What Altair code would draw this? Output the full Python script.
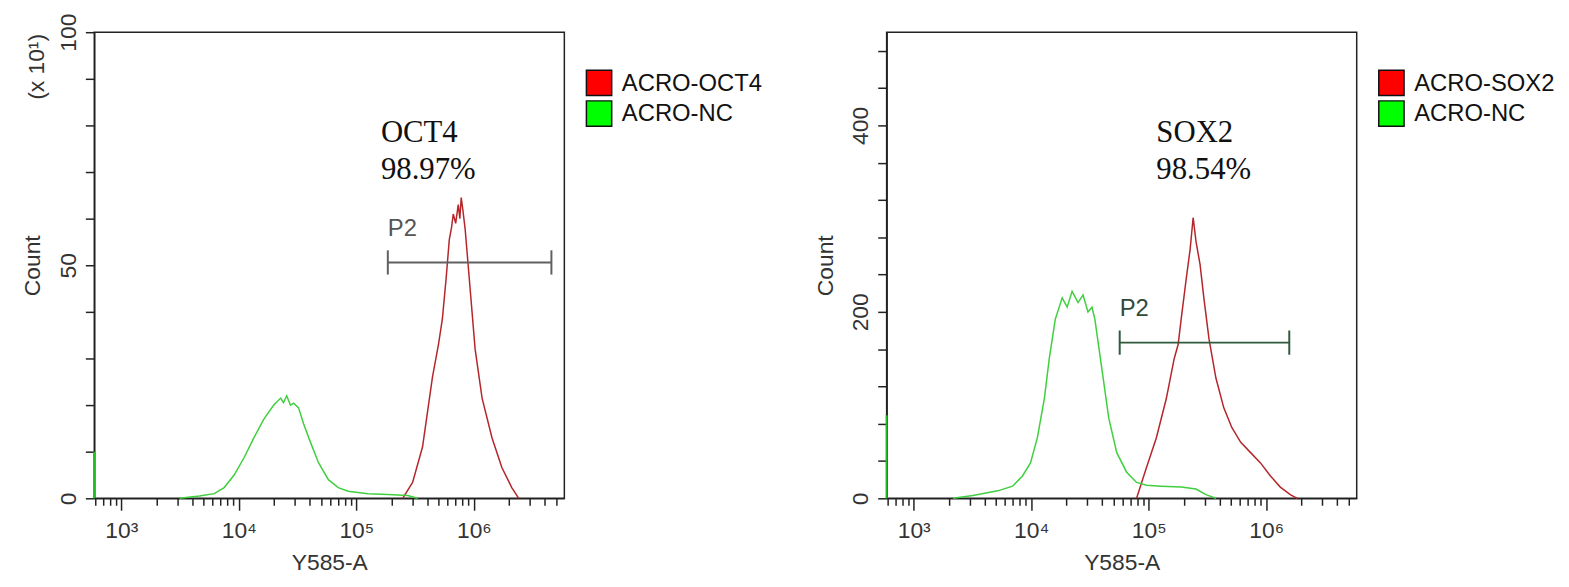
import altair as alt
import pandas as pd

# ---------------- data ----------------
# Left panel: OCT4 (counts shown in units of x10)
oct4_x = [247900, 301000, 365600, 444400, 500000, 539500, 580000, 618000, 645000, 668000, 700000,
          736600, 760000, 780400, 805000, 843500, 929000, 1025000, 1175000, 1426000, 1731000, 2102000, 2409000]
oct4_y = [0, 3.4, 11, 26, 33, 38.5, 47, 55.5, 58, 61, 59, 63, 60, 64.5, 62, 57.7, 45, 32, 21.5, 13, 6.6, 2.3, 0]
nc1_x = [3130, 4620, 6180, 7500, 9120, 11070, 13450, 16330, 19830, 22710, 24000, 25540, 27500, 29250,
         32240, 35550, 40740, 47530, 57800, 70150, 85150, 125600, 185300, 273400, 332000]
nc1_y = [0, 0.5, 1, 2.3, 5, 8.7, 13, 17, 20, 21.5, 20.5, 22, 20, 20.4, 19.4, 16, 12, 7.7, 4, 2.3, 1.5, 1,
         0.8, 0.6, 0]

# Right panel: SOX2
sox2_x = [78850, 95730, 116200, 141200, 164900, 178000, 188800, 208300, 225100, 238800, 252900, 273400,
          295300, 325800, 373100, 435500, 509300, 606700, 736600, 893500, 1086000, 1318000, 1602000, 1836000]
sox2_y = [0, 33, 65, 107, 150, 165, 192, 235, 267, 301, 275, 251, 214, 171, 129, 97, 76, 60, 49, 38, 24, 12, 4, 0]
nc2_x = [2163, 3192, 5190, 6950, 8435, 9860, 11290, 12940, 14260, 16020, 18350, 20230, 22290, 25040,
         27600, 30420, 32890, 34840, 39910, 45720, 53450, 64890, 78850, 95730, 128200, 188800, 252900,
         307000, 373100]
nc2_y = [0, 3, 8, 13, 24, 38, 65, 107, 150, 192, 215, 205, 222, 210, 218, 200, 205, 192, 139, 86, 49, 28,
         17, 14, 13, 12, 10, 4, 0]

# pile-up at the lowest channel (green edge line)
edge_counts = [10, 89]

# gates (P2)
gate_lo = [185300, 56640]
gate_hi = [4570000, 1571000]
gate_y = [50.6, 167]
gate_cap = [2.6, 13]
p2_label_y = [56.2, 196]

# annotations
marker_names = ["OCT4", "SOX2"]
marker_pcts = ["98.97%", "98.54%"]
ann_x = [161800, 116200]
ann_y1 = [76.4, 382]
ann_y2 = [68.5, 342]

legend_labels = [["ACRO-OCT4", "ACRO-NC"], ["ACRO-SOX2", "ACRO-NC"]]

# axes
X_DOMAIN = [588.8, 5888000]
major_ticks = [1000, 10000, 100000, 1000000]
minor_ticks = [600, 700, 800, 900, 2000, 3000, 4000, 5000, 6000, 7000, 8000, 9000,
               20000, 30000, 40000, 50000, 60000, 70000, 80000, 90000,
               200000, 300000, 400000, 500000, 600000, 700000, 800000, 900000,
               2000000, 3000000, 4000000, 5000000]
y_max = [100, 500]
y_ticks = [list(range(0, 101, 10)), list(range(0, 481, 40))]
y_label_step = [50, 200]

RED_LINE = "#b5262a"
GREEN_LINE = "#3fcf3f"
LEG_RED = "#ff0000"
LEG_GREEN = "#00ff00"
SANS = "Liberation Sans"
SERIF = "Liberation Serif"
W, H = 474, 470

gate_colors = ["#606060", "#2f5a3c"]
p2_colors = ["#555555", "#2f4a3a"]

xscale = alt.Scale(type="log", domain=X_DOMAIN, nice=False)

label_expr = ("datum.value == 1000 ? '10³' : datum.value == 10000 ? '10⁴' : "
              "datum.value == 100000 ? '10⁵' : datum.value == 1000000 ? '10⁶' : ''")
major_test = "datum.value == 1000 || datum.value == 10000 || datum.value == 100000 || datum.value == 1000000"


def panel(i, hx, hy, nx, ny):
    names = legend_labels[i]
    df = pd.DataFrame({
        "x": list(hx) + list(nx),
        "count": list(hy) + list(ny),
        "series": [names[0]] * len(hx) + ["NC"] * len(nx),
    })
    yscale = alt.Scale(domain=[0, y_max[i]], nice=False)

    y_axis = alt.Axis(values=y_ticks[i], tickCount=100,
                      labelExpr=f"datum.value % {y_label_step[i]} === 0 ? datum.label : ''",
                      labelAngle=270, labelAlign="center", labelBaseline="bottom", labelPadding=5,
                      labelFont=SANS, labelFontSize=23, labelColor="#333", labelOverlap=False,
                      labelFlush=False, labelBound=False, tickSize=9, tickColor="#222", tickWidth=1.5,
                      domainColor="#222", domainWidth=1.5, grid=False,
                      titleFont=SANS, titleFontSize=23, titleFontWeight="normal", titleColor="#333",
                      titleAngle=270, titleAlign="center", titleBaseline="middle", titleX=-62, titleY=H / 2)
    x_axis = alt.Axis(values=major_ticks + minor_ticks, tickCount=100, labelExpr=label_expr, labelFont=SANS,
                      labelFontSize=23, labelColor="#333", labelPadding=10, labelFlush=False,
                      labelOverlap=False, labelBound=False,
                      tickSize={"condition": {"test": major_test, "value": 12}, "value": 7},
                      tickColor="#222", tickWidth=1.5, domainColor="#222", domainWidth=1.5,
                      grid=False, titleFont=SANS, titleFontSize=23, titleFontWeight="normal",
                      titleColor="#333", titleBaseline="alphabetic", titleY=72, titleX=W / 2)

    lines = alt.Chart(df).mark_line(strokeWidth=1.5).encode(
        x=alt.X("x:Q", scale=xscale, axis=x_axis, title="Y585-A"),
        y=alt.Y("count:Q", scale=yscale, axis=y_axis, title="Count"),
        color=alt.Color("series:N", scale=alt.Scale(domain=[names[0], "NC"], range=[RED_LINE, GREEN_LINE]),
                        legend=None),
    )

    edge = alt.Chart(pd.DataFrame({"x": [X_DOMAIN[0]], "y0": [0], "y1": [edge_counts[i]]})).mark_rule(
        color="#22bb22", strokeWidth=2).encode(
        x=alt.X("x:Q", scale=xscale), y=alt.Y("y0:Q", scale=yscale), y2="y1:Q")

    gdf = pd.DataFrame({"lo": [gate_lo[i]], "hi": [gate_hi[i]], "y": [gate_y[i]],
                        "ylo": [gate_y[i] - gate_cap[i]], "yhi": [gate_y[i] + gate_cap[i]],
                        "ly": [p2_label_y[i]], "label": ["P2"]})
    gate = alt.Chart(gdf).mark_rule(color=gate_colors[i], strokeWidth=2).encode(
        x=alt.X("lo:Q", scale=xscale), x2="hi:Q", y=alt.Y("y:Q", scale=yscale))
    cap_lo = alt.Chart(gdf).mark_rule(color=gate_colors[i], strokeWidth=2).encode(
        x=alt.X("lo:Q", scale=xscale), y=alt.Y("ylo:Q", scale=yscale), y2="yhi:Q")
    cap_hi = alt.Chart(gdf).mark_rule(color=gate_colors[i], strokeWidth=2).encode(
        x=alt.X("hi:Q", scale=xscale), y=alt.Y("ylo:Q", scale=yscale), y2="yhi:Q")
    p2 = alt.Chart(gdf).mark_text(font=SANS, fontSize=24, color=p2_colors[i], align="left",
                                  baseline="alphabetic").encode(
        x=alt.X("lo:Q", scale=xscale), y=alt.Y("ly:Q", scale=yscale), text="label:N")

    adf = pd.DataFrame({"x": [ann_x[i], ann_x[i]], "y": [ann_y1[i], ann_y2[i]],
                        "t": [marker_names[i], marker_pcts[i]]})
    ann = alt.Chart(adf).mark_text(font=SERIF, fontSize=31, color="#111", align="left",
                                   baseline="alphabetic").encode(
        x=alt.X("x:Q", scale=xscale), y=alt.Y("y:Q", scale=yscale), text="t:N")

    # legend (drawn outside the plot area)
    leg_layers = []
    for k, (lab, col) in enumerate(zip(names, [LEG_RED, LEG_GREEN])):
        ldf = pd.DataFrame({"t": [lab]})
        leg_layers.append(alt.Chart(ldf).mark_square(size=650, fill=col, stroke="#111", strokeWidth=1.5,
                                                     opacity=1).encode(
            x=alt.value(W + 35), y=alt.value(51 + 31 * k)))
        leg_layers.append(alt.Chart(ldf).mark_text(font=SANS, fontSize=24, color="#111", align="left",
                                                   baseline="middle").encode(
            x=alt.value(W + 58), y=alt.value(52 + 31 * k), text="t:N"))

    layers = [lines, edge, gate, cap_lo, cap_hi, p2, ann] + leg_layers
    if i == 0:
        layers.append(alt.Chart(pd.DataFrame({"t": ["(x 10¹)"]})).mark_text(
            font=SANS, fontSize=23, color="#333", angle=270, align="center", baseline="middle").encode(
            x=alt.value(-58), y=alt.value(35), text="t:N"))
    return alt.layer(*layers).properties(width=W, height=H)


left = panel(0, oct4_x, oct4_y, nc1_x, nc1_y)
right = panel(1, sox2_x, sox2_y, nc2_x, nc2_y)

chart = alt.hconcat(left, right, spacing=325, bounds="flush").properties(
    padding={"left": 13, "top": 2, "right": 5, "bottom": 5}, background="white"
).configure_view(stroke="#222", strokeWidth=1.5)

chart.save("out.html", embed_options={"renderer": "svg", "actions": False})
